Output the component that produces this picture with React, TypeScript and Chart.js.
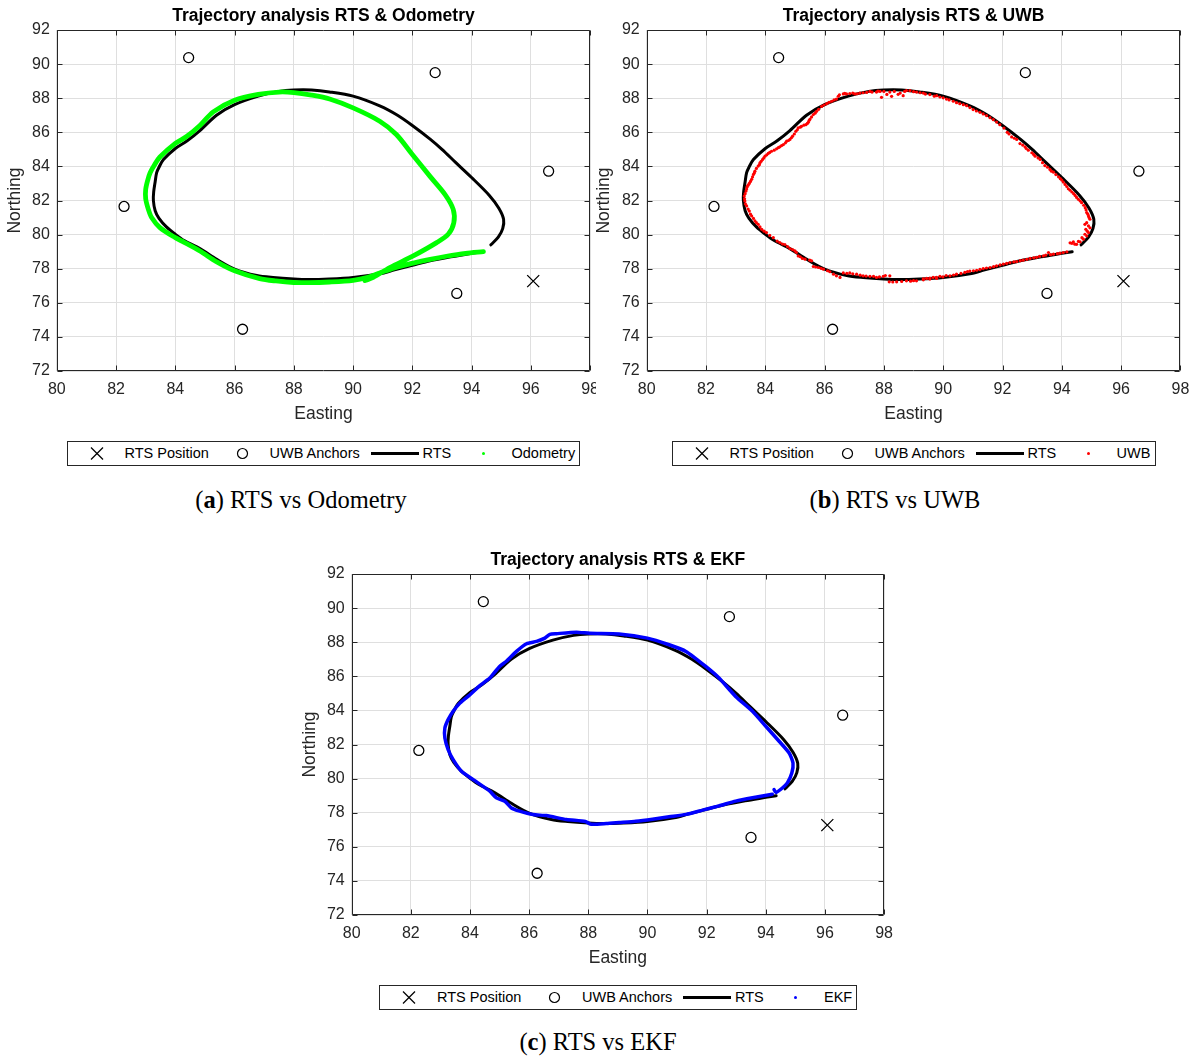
import React, { useEffect, useRef } from 'react';
import { Chart, registerables } from 'chart.js';

Chart.register(...registerables);

const FONT = "'Liberation Sans', Arial, Helvetica, sans-serif";
const SERIF = "'Liberation Serif', 'Times New Roman', serif";
const AXIS_COLOR = '#262626';
const GRID_COLOR = '#dfdfdf';

// ---- tick labels ----
const xTickLabels = [80, 82, 84, 86, 88, 90, 92, 94, 96, 98];
const yTickLabels = [72, 74, 76, 78, 80, 82, 84, 86, 88, 90, 92];

// ---- fixed markers ----
const rtsPositionEasting = [96.08];
const rtsPositionNorthing = [77.27];

const anchorEasting = [82.27, 84.45, 86.27, 92.77, 93.5, 96.6];
const anchorNorthing = [81.65, 90.38, 74.45, 89.5, 76.55, 83.72];

// ---- RTS reference trajectory ----
const rtsEasting = [
  94.35, 94.0, 93.3, 92.6, 92.0, 91.4, 90.9, 90.0, 89.2, 88.5, 88.0, 87.3, 86.75, 86.0, 85.4, 84.83,
  84.3, 84.0, 83.7, 83.45, 83.32, 83.26, 83.27, 83.32, 83.37, 83.45, 83.6, 84.0, 84.4, 84.83, 85.39,
  86.0, 86.8, 87.5, 88.0, 88.6, 89.2, 90.0, 90.9, 91.5, 92.0, 92.6, 93.0, 93.45, 94.0, 94.6, 94.92,
  95.08, 95.05, 94.9, 94.65,
];
const rtsNorthing = [
  79.0, 78.9, 78.7, 78.47, 78.2, 77.93, 77.7, 77.48, 77.39, 77.36, 77.39, 77.48, 77.6, 77.98, 78.55, 79.18,
  79.65, 80.02, 80.45, 80.95, 81.4, 82.0, 82.5, 83.1, 83.63, 83.95, 84.4, 85.05, 85.5, 86.1, 87.0,
  87.62, 88.12, 88.4, 88.48, 88.48, 88.37, 88.12, 87.55, 87.0, 86.4, 85.6, 85.0, 84.25, 83.35, 82.3, 81.55,
  80.9, 80.35, 79.85, 79.4,
];

// ---- Odometry ----
const odoEasting = [
  94.4, 93.8, 93.15, 92.6, 92.03, 91.4, 90.9, 90.5, 90.0, 89.2, 88.5, 88.0, 87.4, 86.85, 86.0, 85.4,
  84.83, 84.3, 84.0, 83.48, 83.2, 83.09, 83.0, 83.0, 83.07, 83.15, 83.3, 83.48, 84.0, 84.38, 84.83,
  85.28, 86.0, 86.8, 87.5, 88.0, 88.6, 89.21, 90.0, 90.9, 91.46, 92.0, 92.59, 93.1, 93.38, 93.4, 93.21,
  92.82, 92.03, 91.24, 90.68, 90.4,
];
const odoNorthing = [
  79.0, 78.9, 78.73, 78.55, 78.33, 78.05, 77.75, 77.5, 77.32, 77.22, 77.18, 77.19, 77.28, 77.42, 77.88, 78.4,
  79.04, 79.55, 79.82, 80.41, 81.0, 81.48, 82.1, 82.65, 83.2, 83.63, 84.1, 84.55, 85.35, 85.75, 86.4,
  87.2, 87.88, 88.22, 88.36, 88.33, 88.18, 87.95, 87.43, 86.65, 85.87, 84.7, 83.43, 82.36, 81.48, 80.7, 80.02,
  79.53, 78.75, 78.07, 77.49, 77.3,
];

// ---- UWB fixes ----
const uwbEasting = [
  89.78, 89.55, 89.33, 89.1, 88.88, 88.76, 88.65, 88.48, 88.26, 88.2, 87.92, 87.87, 87.75, 87.53, 87.42,
  87.19, 87.02, 86.85, 86.74, 86.63, 86.46, 86.4, 86.24, 86.07, 85.9, 85.73, 85.62, 85.51, 85.45, 85.37,
  85.22, 85.11, 85.03, 84.92, 84.83, 84.72, 84.61, 84.49, 84.38, 84.21, 84.1, 83.99, 83.91, 83.82, 83.76,
  83.65, 83.6, 83.54, 83.46, 83.39, 83.35, 83.29, 83.31, 83.37, 83.46, 83.54, 83.65, 83.76, 83.88, 84.04,
  84.27, 84.49, 84.66, 84.83, 85.0, 85.11, 85.34, 85.56, 85.62, 85.79, 85.96, 86.18, 86.4, 86.52, 86.63,
  86.85, 87.08, 87.3, 87.53, 87.75, 87.98, 88.2, 88.18, 88.43, 88.76, 89.1, 89.33, 89.55, 89.78,
  89.89, 90.11, 90.34, 90.56, 90.79, 91.01, 91.24, 91.46, 91.69, 91.91, 92.16, 92.31, 92.48, 92.59, 92.76,
  92.87, 92.99, 93.1, 93.27, 93.43, 93.6, 93.72, 93.89, 94.0, 94.11, 94.22, 94.34, 94.45, 94.56, 94.67,
  94.79, 94.84, 94.9, 94.95, 94.84, 94.9, 94.81, 94.9, 94.84, 94.73, 94.62, 94.5, 94.39, 94.34, 94.17,
  93.94, 93.72, 93.55, 93.38, 93.15, 92.93, 92.7, 92.48, 92.25, 92.03, 91.8, 91.58, 91.35, 91.13, 90.9,
  90.73, 90.45, 90.23, 89.89, 89.66, 89.44,
  89.4, 89.7, 90.0, 90.2, 90.45, 90.68, 90.9, 91.12, 91.35, 91.58, 91.8, 92.05, 92.22, 92.4, 92.68,
  92.8, 93.05, 93.2, 93.35, 93.52, 93.65, 93.8, 93.95, 94.05, 94.17, 94.28, 94.4, 94.5, 94.62, 94.74,
  94.82, 94.88, 94.92, 94.78, 94.95, 94.86, 94.78, 94.68, 94.56, 94.44, 94.28,
  94.05, 93.85, 93.62, 93.46, 93.25, 93.05, 92.82, 92.6, 92.38, 92.14, 91.92, 91.7, 91.46, 91.24, 91.02,
  90.82, 90.6, 90.35, 90.1, 89.99, 89.77, 89.55, 89.33,
  89.0, 88.9, 88.6, 88.3, 88.05, 87.85, 87.65, 87.4, 87.2, 86.95, 86.75,
  86.3, 86.1, 85.88, 85.7, 85.5, 85.25, 85.18, 85.05, 84.92, 84.75, 84.58, 84.4, 84.15, 83.96, 83.82,
  83.7, 83.6, 83.5, 83.42, 83.33, 83.3, 83.32, 83.37, 83.42, 83.5, 83.57, 83.63, 83.7, 83.8, 83.86,
  83.95, 84.05, 84.15, 84.3, 84.44, 84.55, 84.68, 84.78, 84.88, 84.98, 85.08, 85.18, 85.3, 85.42, 85.48,
  85.56, 85.68, 85.8, 85.98, 86.15, 86.32, 86.5, 86.68, 86.95, 87.1, 87.3, 87.6, 87.8, 88.0, 88.1,
  88.35, 88.55, 88.7, 89.0, 89.22,
];
const uwbNorthing = [
  88.15, 88.21, 88.3, 88.36, 88.44, 88.45, 88.15, 88.23, 88.11, 88.36, 88.05, 88.4, 88.36, 88.4, 88.34,
  88.3, 88.25, 88.27, 88.25, 88.25, 88.11, 87.95, 87.82, 87.68, 87.52, 87.23, 87.04, 86.78, 86.59, 86.45,
  86.35, 86.26, 86.06, 85.77, 85.58, 85.48, 85.28, 85.15, 85.03, 84.89, 84.76, 84.6, 84.41, 84.21, 84.02,
  83.72, 83.53, 83.24, 83.0, 82.81, 82.55, 82.26, 81.97, 81.68, 81.38, 81.09, 80.8, 80.6, 80.31, 80.12,
  79.82, 79.53, 79.42, 79.18, 79.04, 78.75, 78.56, 78.46, 78.13, 78.07, 77.97, 77.82, 77.58, 77.49, 77.75,
  77.75, 77.68, 77.58, 77.55, 77.49, 77.55, 77.58, 77.23, 77.23, 77.29, 77.29, 77.35, 77.39, 77.43,
  88.07, 87.95, 87.82, 87.68, 87.56, 87.33, 87.17, 86.98, 86.74, 86.45, 86.0, 85.73, 85.58, 85.34, 85.15,
  84.95, 84.8, 84.6, 84.41, 84.05, 83.82, 83.66, 83.39, 83.2, 82.94, 82.69, 82.5, 82.3, 82.07, 81.87,
  81.58, 81.29, 81.09, 80.9, 80.7, 80.51, 80.31, 80.12, 79.92, 79.73, 79.57, 79.43, 79.57, 79.49, 78.99,
  78.91, 78.85, 78.95, 78.75, 78.67, 78.6, 78.5, 78.42, 78.36, 78.27, 78.17, 78.07, 78.01, 77.91, 77.86,
  77.78, 77.68, 77.58, 77.55, 77.49, 77.43,
  88.24, 88.12, 88.02, 87.9, 87.74, 87.62, 87.45, 87.25, 87.08, 86.86, 86.6, 86.25, 85.9, 85.65, 85.25,
  85.05, 84.7, 84.5, 84.22, 83.95, 83.72, 83.52, 83.28, 83.08, 82.82, 82.6, 82.4, 82.18, 81.97, 81.72,
  81.45, 81.2, 81.0, 80.6, 80.4, 80.2, 80.02, 79.82, 79.6, 79.44, 79.52,
  78.95, 78.88, 78.82, 78.8, 78.72, 78.64, 78.55, 78.47, 78.4, 78.31, 78.22, 78.12, 78.04, 77.96, 77.88,
  77.83, 77.72, 77.63, 77.6, 77.52, 77.5, 77.45, 77.41,
  77.3, 77.27, 77.25, 77.22, 77.6, 77.52, 77.55, 77.57, 77.62, 77.7, 77.72,
  77.68, 77.88, 78.02, 78.1, 78.5, 78.6, 78.7, 78.95, 79.12, 79.3, 79.45, 79.62, 79.95, 80.2, 80.45,
  80.7, 80.95, 81.2, 81.5, 81.8, 82.1, 82.4, 82.68, 82.9, 83.12, 83.38, 83.62, 83.88, 84.1, 84.3,
  84.5, 84.68, 84.82, 84.95, 85.1, 85.22, 85.38, 85.52, 85.68, 85.9, 86.15, 86.3, 86.42, 86.52, 86.7,
  86.9, 87.12, 87.35, 87.6, 87.76, 87.9, 88.2, 88.28, 88.3, 88.26, 88.32, 88.36, 88.42, 88.4, 88.22,
  88.4, 88.3, 88.4, 88.38, 88.32,
];

// ---- EKF ----
const ekfEasting = [
  94.22, 93.55, 92.98, 92.42, 91.86, 91.3, 90.73, 90.17, 89.61, 89.04, 88.61, 88.1, 87.9, 87.26, 86.58,
  86.13, 85.68, 85.4, 85.18, 84.89, 84.67, 84.11, 83.71, 83.43, 83.26, 83.15, 83.15, 83.26, 83.43, 83.66,
  84.0, 84.33, 84.67, 85.0, 85.23, 85.57, 85.91, 86.25, 86.53, 86.7, 86.92, 87.6, 88.05, 89.04, 90.0,
  90.73, 91.3, 91.97, 92.42, 92.98, 93.55, 94.0, 94.45, 94.79, 94.92, 94.88, 94.73, 94.56, 94.34, 94.28,
];
const ekfNorthing = [
  79.08, 78.88, 78.68, 78.4, 78.15, 77.9, 77.76, 77.62, 77.5, 77.42, 77.36, 77.32, 77.48, 77.6, 77.83,
  77.89, 78.09, 78.28, 78.67, 78.87, 79.26, 79.94, 80.43, 81.11, 81.7, 82.38, 82.97, 83.46, 83.95, 84.43,
  84.92, 85.45, 85.9, 86.58, 86.88, 87.46, 87.91, 88.05, 88.24, 88.46, 88.5, 88.59, 88.52, 88.48, 88.24,
  87.85, 87.46, 86.58, 85.9, 84.82, 83.95, 83.07, 82.19, 81.5, 80.92, 80.33, 79.75, 79.45, 79.18, 79.36,
];

const zip = (xs: number[], ys: number[]) => xs.map((x, i) => ({ x, y: ys[i] }));

const boxPlugin = {
  id: 'matlabBox',
  afterDraw(chart: any) {
    const { ctx, chartArea, scales } = chart;
    const { left, right, top, bottom } = chartArea;
    const sx = scales.x;
    const sy = scales.y;
    ctx.save();
    ctx.strokeStyle = AXIS_COLOR;
    ctx.lineWidth = 1;
    ctx.beginPath();
    const L = Math.round(left) + 0.5;
    const R = Math.round(right) - 0.5;
    const T = Math.round(top) + 0.5;
    const B = Math.round(bottom) - 0.5;
    for (const v of xTickLabels) {
      const px = Math.round(sx.getPixelForValue(v)) + 0.5;
      ctx.moveTo(px, T);
      ctx.lineTo(px, T + 5);
      ctx.moveTo(px, B);
      ctx.lineTo(px, B - 5);
    }
    for (const v of yTickLabels) {
      const py = Math.round(sy.getPixelForValue(v)) + 0.5;
      ctx.moveTo(L, py);
      ctx.lineTo(L + 5, py);
      ctx.moveTo(R, py);
      ctx.lineTo(R - 5, py);
    }
    ctx.rect(L, T, R - L, B - T);
    ctx.stroke();
    ctx.restore();
  },
};

type Overlay = 'odometry' | 'uwb' | 'ekf';

interface PanelCfg {
  left: number;
  top: number;
  width: number;
  height: number;
  yAxisWidth: number;
  padRight: number;
  northingPad: number;
  title: string;
  overlay: Overlay;
  bg?: string;
}

function overlayDataset(kind: Overlay) {
  if (kind === 'odometry') {
    return {
      label: 'Odometry',
      data: zip(odoEasting, odoNorthing),
      showLine: true,
      borderColor: '#00ff00',
      backgroundColor: '#00ff00',
      borderWidth: 4.8,
      pointRadius: 0,
      tension: 0.3,
      borderJoinStyle: 'round',
      borderCapStyle: 'round',
      order: 0,
    };
  }
  if (kind === 'uwb') {
    return {
      label: 'UWB',
      data: zip(uwbEasting, uwbNorthing),
      showLine: false,
      backgroundColor: '#ff0000',
      borderColor: '#ff0000',
      borderWidth: 0,
      pointRadius: 1.6,
      pointStyle: 'circle',
      order: 0,
    };
  }
  return {
    label: 'EKF',
    data: zip(ekfEasting, ekfNorthing),
    showLine: true,
    borderColor: '#0000ff',
    backgroundColor: '#0000ff',
    borderWidth: 3.5,
    pointRadius: 0,
    tension: 0.2,
    borderJoinStyle: 'round',
    borderCapStyle: 'round',
    order: 0,
  };
}

function ChartPanel({ cfg }: { cfg: PanelCfg }) {
  const ref = useRef<HTMLCanvasElement>(null);
  useEffect(() => {
    const canvas = ref.current;
    if (!canvas) return;
    const xAxisHeight = cfg.height - 371;
    const chart = new Chart(canvas, {
      type: 'scatter',
      data: {
        datasets: [
          overlayDataset(cfg.overlay) as any,
          {
            label: 'RTS',
            data: zip(rtsEasting, rtsNorthing),
            showLine: true,
            borderColor: '#000000',
            backgroundColor: '#000000',
            borderWidth: 3,
            pointRadius: 0,
            tension: 0.3,
            borderJoinStyle: 'round',
            borderCapStyle: 'round',
            order: 1,
          },
          {
            label: 'UWB Anchors',
            data: zip(anchorEasting, anchorNorthing),
            showLine: false,
            pointStyle: 'circle',
            pointRadius: 5,
            borderColor: '#000000',
            backgroundColor: 'rgba(0,0,0,0)',
            borderWidth: 1.3,
            order: 2,
          },
          {
            label: 'RTS Position',
            data: zip(rtsPositionEasting, rtsPositionNorthing),
            showLine: false,
            pointStyle: 'crossRot',
            pointRadius: 8.5,
            borderColor: '#000000',
            borderWidth: 1.3,
            order: 3,
          },
        ],
      },
      options: {
        animation: false,
        responsive: false,
        maintainAspectRatio: false,
        events: [],
        layout: { padding: { left: 0, right: cfg.padRight, top: 0, bottom: 0 } },
        plugins: {
          legend: { display: false },
          tooltip: { enabled: false },
          title: {
            display: true,
            text: cfg.title,
            fullSize: false,
            color: '#000000',
            font: { family: FONT, size: 17.5, weight: 'bold' },
            padding: { top: 6, bottom: 3 },
          },
        },
        scales: {
          x: {
            type: 'linear',
            min: 80,
            max: 98,
            afterBuildTicks: (s: any) => {
              s.ticks = xTickLabels.map((v) => ({ value: v }));
            },
            afterFit: (s: any) => {
              s.height = xAxisHeight;
            },
            ticks: {
              color: AXIS_COLOR,
              font: { family: FONT, size: 16 },
              padding: 9,
              maxRotation: 0,
              autoSkip: false,
            },
            grid: { color: GRID_COLOR, lineWidth: 1, drawTicks: false },
            border: { display: false },
            title: {
              display: true,
              text: 'Easting',
              color: AXIS_COLOR,
              font: { family: FONT, size: 17.5 },
              padding: { top: 0, bottom: 3.8 },
            },
          },
          y: {
            type: 'linear',
            min: 72,
            max: 92,
            afterBuildTicks: (s: any) => {
              s.ticks = yTickLabels.map((v) => ({ value: v }));
            },
            afterFit: (s: any) => {
              s.width = cfg.yAxisWidth;
            },
            ticks: {
              color: AXIS_COLOR,
              font: { family: FONT, size: 16 },
              padding: 7,
              autoSkip: false,
            },
            grid: { color: GRID_COLOR, lineWidth: 1, drawTicks: false },
            border: { display: false },
            title: {
              display: true,
              text: 'Northing',
              color: AXIS_COLOR,
              font: { family: FONT, size: 17.5 },
              padding: { top: cfg.northingPad, bottom: 0 },
            },
          },
        },
      } as any,
      plugins: [boxPlugin],
    });
    return () => chart.destroy();
  }, [cfg]);
  return (
    <canvas
      ref={ref}
      width={cfg.width}
      height={cfg.height}
      style={{
        position: 'absolute',
        left: cfg.left,
        top: cfg.top,
        width: cfg.width,
        height: cfg.height,
        background: cfg.bg || 'transparent',
        display: 'block',
      }}
    />
  );
}

function LegendBox({ left, top, width, color, label }: { left: number; top: number; width: number; color: string; label: string }) {
  const txt: React.CSSProperties = {
    position: 'absolute',
    top: 0,
    height: 23,
    lineHeight: '23px',
    fontFamily: FONT,
    fontSize: 14.5,
    color: '#000',
    whiteSpace: 'nowrap',
  };
  const cy = 11.5;
  return (
    <div
      style={{
        position: 'absolute',
        left,
        top,
        width,
        height: 25,
        border: `1px solid ${AXIS_COLOR}`,
        boxSizing: 'border-box',
        background: '#fff',
      }}
    >
      <svg width={width - 2} height={23} style={{ position: 'absolute', left: 0, top: 0 }}>
        <line x1={29 - 6} y1={cy - 6} x2={29 + 6} y2={cy + 6} stroke="#000" strokeWidth={1.2} />
        <line x1={29 - 6} y1={cy + 6} x2={29 + 6} y2={cy - 6} stroke="#000" strokeWidth={1.2} />
        <circle cx={174.5} cy={cy} r={5} fill="none" stroke="#000" strokeWidth={1.2} />
        <line x1={303} y1={cy} x2={351} y2={cy} stroke="#000" strokeWidth={3} />
        <circle cx={415.5} cy={cy} r={1.5} fill={color} />
      </svg>
      <span style={{ ...txt, left: 57 }}>RTS Position</span>
      <span style={{ ...txt, left: 202 }}>UWB Anchors</span>
      <span style={{ ...txt, left: 355 }}>RTS</span>
      <span style={{ ...txt, left: 444 }}>{label}</span>
    </div>
  );
}

function Caption({ center, baseline, letter, text }: { center: number; baseline: number; letter: string; text: string }) {
  return (
    <div
      style={{
        position: 'absolute',
        left: center - 200,
        top: baseline - 20.5,
        width: 400,
        textAlign: 'center',
        fontFamily: SERIF,
        fontSize: 24.5,
        lineHeight: '24.5px',
        color: '#000',
        whiteSpace: 'nowrap',
      }}
    >
      (<b>{letter}</b>) {text}
    </div>
  );
}

const panelA: PanelCfg = {
  left: 0, top: 0, width: 608, height: 428, yAxisWidth: 56.8, padRight: 17.6, northingPad: 4.5,
  title: 'Trajectory analysis RTS & Odometry', overlay: 'odometry',
};
const panelB: PanelCfg = {
  left: 596, top: 0, width: 603, height: 428, yAxisWidth: 50.7, padRight: 18.6, northingPad: -2,
  title: 'Trajectory analysis RTS & UWB', overlay: 'uwb', bg: '#ffffff',
};
const panelC: PanelCfg = {
  left: 295, top: 544.2, width: 607, height: 428, yAxisWidth: 56.7, padRight: 17.6, northingPad: 5,
  title: 'Trajectory analysis RTS & EKF', overlay: 'ekf',
};

export default function App() {
  return (
    <div
      style={{
        position: 'absolute',
        left: 0,
        top: 0,
        width: 1199,
        height: 1061,
        background: '#ffffff',
        overflow: 'hidden',
      }}
    >
      <ChartPanel cfg={panelA} />
      <ChartPanel cfg={panelB} />
      <ChartPanel cfg={panelC} />
      <LegendBox left={66.5} top={440.5} width={513} color="#00ff00" label="Odometry" />
      <LegendBox left={671.5} top={440.5} width={484} color="#ff0000" label="UWB" />
      <LegendBox left={379} top={985} width={478} color="#0000ff" label="EKF" />
      <Caption center={301} baseline={508} letter="a" text="RTS vs Odometry" />
      <Caption center={895} baseline={508} letter="b" text="RTS vs UWB" />
      <Caption center={598} baseline={1050} letter="c" text="RTS vs EKF" />
    </div>
  );
}
